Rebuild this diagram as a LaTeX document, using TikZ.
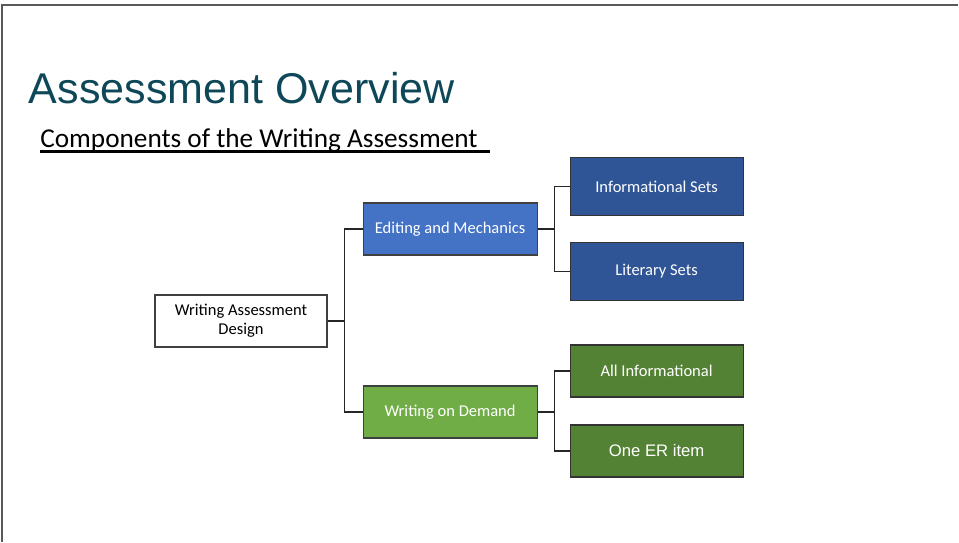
\documentclass[tikz,border=0pt]{standalone}
\usepackage{fontspec}
\setmainfont{Carlito}
\newfontfamily\arialfont{Liberation Sans}
\usepackage{xcolor}
\usetikzlibrary{positioning}

\definecolor{titleteal}{RGB}{14,72,88}
\definecolor{editblue}{RGB}{68,114,196}
\definecolor{setblue}{RGB}{47,85,151}
\definecolor{wodgreen}{RGB}{112,173,71}
\definecolor{itemgreen}{RGB}{84,130,53}

\begin{document}
\begin{tikzpicture}[
  rootbox/.style={rectangle, draw=black!75, fill=white, line width=0.6pt,
    minimum width=3.44cm, minimum height=1.04cm,
    font=\fontsize{9.4}{11}\selectfont, align=center, inner sep=2pt},
  midbox/.style={rectangle, draw=black!75, line width=0.6pt,
    minimum width=3.48cm, minimum height=1.04cm,
    font=\fontsize{9.4}{11}\selectfont, text=white, align=center},
  leafbox/.style={rectangle, draw=black!80, line width=0.6pt,
    minimum width=3.46cm, minimum height=1.04cm,
    font=\fontsize{9.4}{11}\selectfont, text=white, align=center},
  conn/.style={draw=black!85, line width=0.6pt},
  frame/.style={draw=black!65, line width=1.1pt}
]
\useasboundingbox (0,0) rectangle (19.18,-10.84);

%% ── Slide frame ─────────────────────────────────────────────────────────────
\draw[frame] (0.04,-10.84) -- (0.04,-0.1) -- (19.16,-0.1);

%% ── Heading ─────────────────────────────────────────────────────────────────
\node[anchor=base west, inner sep=0pt, text=titleteal,
      font=\arialfont\fontsize{24.5}{28}\selectfont] (title) at (0.57,-2.07)
    {Assessment Overview};
\node[anchor=base west, inner sep=0pt,
      font=\fontsize{15.5}{18}\selectfont] (sub) at (0.80,-2.94)
    {Components of the Writing Assessment};
\draw[line width=1.7pt] ([yshift=-0.08cm]sub.base west) -- ++(9.0,0);

%% ── Level 1: Root ───────────────────────────────────────────────────────────
\node[rootbox] (design) at (4.82,-6.42) {Writing Assessment\\Design};

%% ── Level 2: Components ─────────────────────────────────────────────────────
\node[midbox, fill=editblue, right=0.7cm of design, yshift= 1.84cm] (edit)
    {Editing and Mechanics};
\node[midbox, fill=wodgreen, right=0.7cm of design, yshift=-1.82cm] (wod)
    {Writing on Demand};

\draw[conn] (design.east) -- ++(0.34,0) |- (edit.west);
\draw[conn] (design.east) -- ++(0.34,0) |- (wod.west);

%% ── Level 3: Item sets ──────────────────────────────────────────────────────
\node[leafbox, fill=setblue, minimum height=1.17cm,
      right=0.64cm of edit, yshift= 0.85cm] (infosets) {Informational Sets};
\node[leafbox, fill=setblue, minimum height=1.15cm,
      right=0.64cm of edit, yshift=-0.85cm] (litsets) {Literary Sets};
\node[leafbox, fill=itemgreen,
      right=0.64cm of wod, yshift= 0.82cm] (allinfo) {All Informational};
\node[leafbox, fill=itemgreen, font=\arialfont\fontsize{9.5}{11}\selectfont,
      right=0.64cm of wod, yshift=-0.78cm] (oneer) {One ER item};

\draw[conn] (edit.east) -- ++(0.34,0) |- (infosets.west);
\draw[conn] (edit.east) -- ++(0.34,0) |- (litsets.west);
\draw[conn] (wod.east)  -- ++(0.34,0) |- (allinfo.west);
\draw[conn] (wod.east)  -- ++(0.34,0) |- (oneer.west);

\end{tikzpicture}
\end{document}
